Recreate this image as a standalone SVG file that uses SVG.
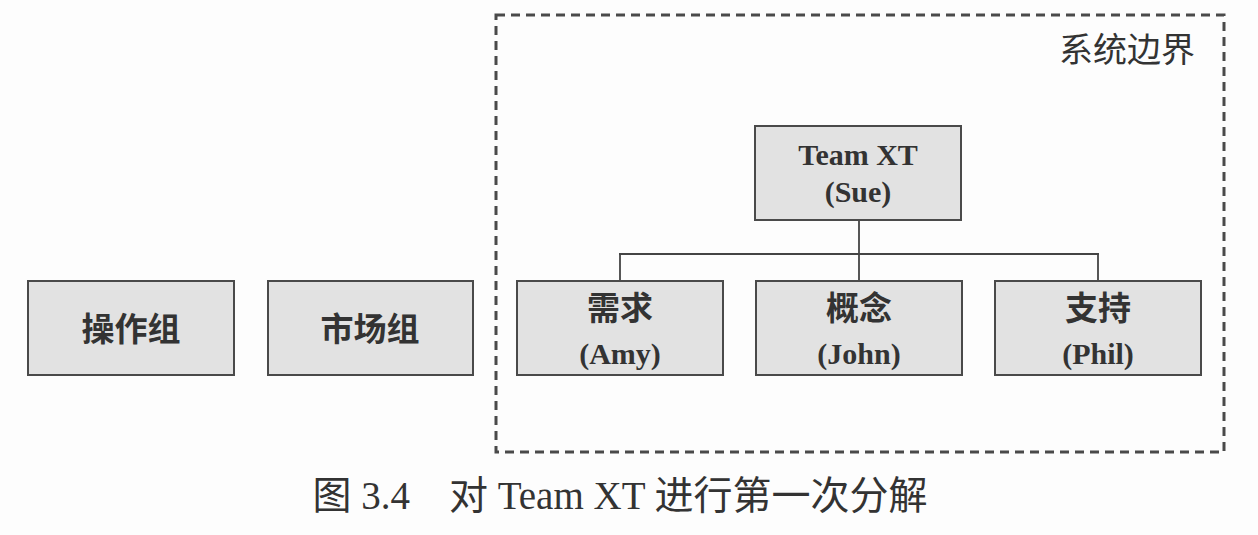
<svg xmlns="http://www.w3.org/2000/svg" width="1258" height="535" viewBox="0 0 1258 535">
<style>
.box{fill:#e2e2e2;stroke:#4a4a4a;stroke-width:2}
.cn{font-family:"Noto Sans CJK SC",sans-serif;font-weight:bold;font-size:33px;fill:#333;text-anchor:middle}
.lat{font-family:"Liberation Serif","Noto Sans CJK SC",serif;font-weight:bold;font-size:30px;fill:#333;text-anchor:middle}
.conn{stroke:#444;stroke-width:1.8;fill:none}
</style>
<rect width="1258" height="535" fill="#fdfdfd"/>
<g id="boundary">
<rect x="496" y="15" width="728" height="437" fill="none" stroke="#4a4a4a" stroke-width="3" stroke-dasharray="9 6"/>
<text x="1195" y="62" font-family="Noto Sans CJK SC,sans-serif" font-size="34" fill="#333" text-anchor="end">系统边界</text>
</g>
<g id="connectors">
<line class="conn" x1="859" y1="220" x2="859" y2="254"/>
<line class="conn" x1="619" y1="254" x2="1099" y2="254"/>
<line class="conn" x1="620" y1="254" x2="620" y2="281"/>
<line class="conn" x1="859" y1="254" x2="859" y2="281"/>
<line class="conn" x1="1098" y1="254" x2="1098" y2="281"/>
</g>
<g id="teamxt">
<rect class="box" x="755" y="126" width="206" height="94"/>
<text class="lat" x="858" y="165">Team XT</text>
<text class="lat" x="858" y="202">(Sue)</text>
</g>
<g id="ops">
<rect class="box" x="28" y="281" width="206" height="94"/>
<text class="cn" x="131" y="341">操作组</text>
</g>
<g id="market">
<rect class="box" x="268" y="281" width="205" height="94"/>
<text class="cn" x="370" y="341">市场组</text>
</g>
<g id="req">
<rect class="box" x="517" y="281" width="206" height="94"/>
<text class="cn" x="620" y="320">需求</text>
<text class="lat" x="620" y="364">(Amy)</text>
</g>
<g id="concept">
<rect class="box" x="756" y="281" width="206" height="94"/>
<text class="cn" x="859" y="320">概念</text>
<text class="lat" x="859" y="364">(John)</text>
</g>
<g id="support">
<rect class="box" x="995" y="281" width="206" height="94"/>
<text class="cn" x="1098" y="320">支持</text>
<text class="lat" x="1098" y="364">(Phil)</text>
</g>
<g id="caption">
<text x="620" y="509" font-family="Liberation Serif,Noto Sans CJK SC,serif" font-size="39" fill="#333" text-anchor="middle" xml:space="preserve">图 3.4    对 Team XT 进行第一次分解</text>
</g>
</svg>
